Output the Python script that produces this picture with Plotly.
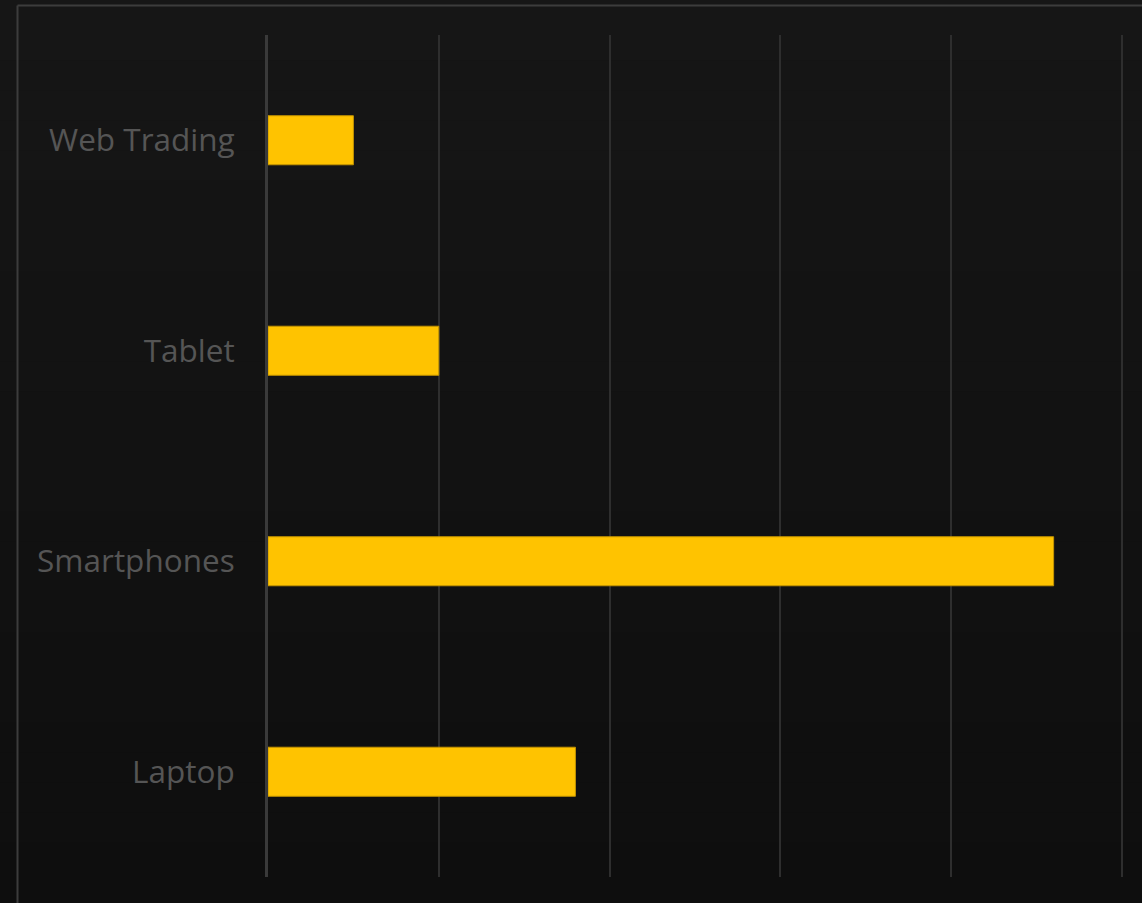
import plotly.graph_objects as go

categories = ["Laptop", "Smartphones", "Tablet", "Web Trading"]
values = [18, 46, 10, 5]
x_ticks = [0, 10, 20, 30, 40, 50]

W, H = 1142, 903
L, R, T, B = 268, 18, 35, 26

fig = go.Figure(go.Bar(
    y=categories, x=values, orientation="h",
    marker=dict(color="#FFC300", line=dict(color="#C49400", width=1)),
    width=0.233,
))

shapes = []
# vertical gradient background
n = 30
pw, ph = W - L - R, H - T - B
x0p, x1p = -L / pw, 1 + R / pw
for i in range(n):
    f = i / n
    y0p = -B / ph + f * (H / ph)
    y1p = -B / ph + (f + 1 / n) * (H / ph) + 0.002
    c = int(round(0x0e + (0x16 - 0x0e) * (i + 0.5) / n))
    shapes.append(dict(type="rect", xref="paper", yref="paper", x0=x0p, x1=x1p,
                       y0=y0p, y1=y1p, fillcolor=f"rgb({c},{c},{c})",
                       line=dict(width=0), layer="below"))
# container border (left and top)
bx = (17.5 - L) / pw
by = (H - B - 5.5) / ph
shapes.append(dict(type="line", xref="paper", yref="paper", x0=bx, x1=x1p, y0=by, y1=by,
                   line=dict(color="#3c3c3c", width=2), layer="below"))
shapes.append(dict(type="line", xref="paper", yref="paper", x0=bx, x1=bx, y0=-B / ph, y1=by,
                   line=dict(color="#3c3c3c", width=2), layer="below"))

fig.update_layout(
    width=W, height=H,
    margin=dict(l=L, r=R, t=T, b=B, pad=0),
    paper_bgcolor="#121212", plot_bgcolor="rgba(0,0,0,0)",
    showlegend=False,
    bargap=0.767,
    shapes=shapes,
    font=dict(family="Open Sans", color="#555555", size=31.5),
)
fig.update_xaxes(range=[0, 50.12], tickvals=x_ticks, showticklabels=False,
                 showgrid=True, gridcolor="#2e2e2e", gridwidth=2,
                 zeroline=False, showline=False, fixedrange=True)
fig.update_yaxes(categoryorder="array", categoryarray=categories,
                 showgrid=False, zeroline=False,
                 showline=True, linecolor="#3a3a3a", linewidth=3, layer="above traces",
                 ticks="outside", ticklen=24, tickcolor="rgba(0,0,0,0)",
                 tickfont=dict(family="Open Sans", size=31.5, color="#555555"),
                 fixedrange=True)

fig.write_html(
    "out.html",
    config={"displayModeBar": False},
    post_script="document.body.style.margin='0';document.body.style.background='#161616';",
)
